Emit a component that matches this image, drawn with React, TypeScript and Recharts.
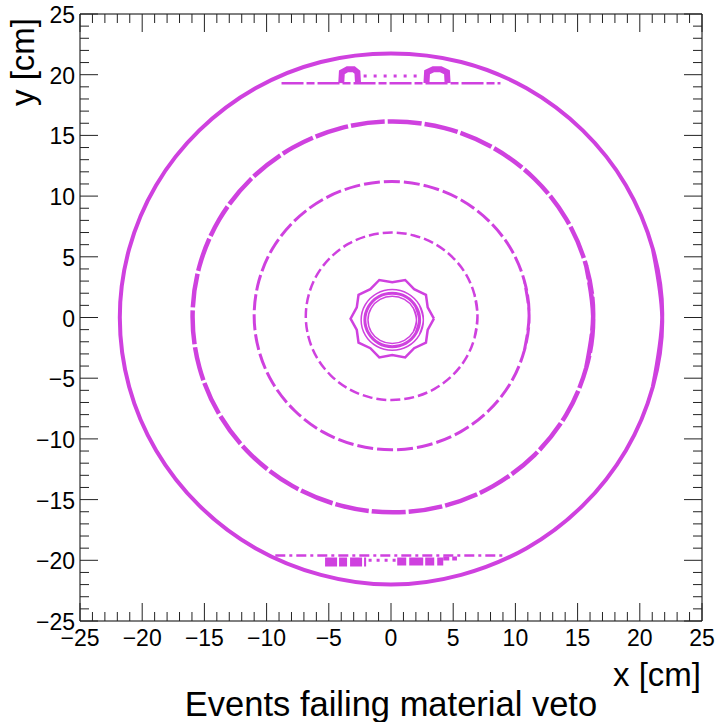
import React from "react";
import { LineChart, Line, XAxis, YAxis, ReferenceArea } from "recharts";

const MAGENTA = "#cf41df";
const FONT = '"Liberation Sans", Arial, Helvetica, sans-serif';

// one tick per cm, labels on every 5th
const axisTicks = [
  -25, -24, -23, -22, -21, -20, -19, -18, -17, -16, -15, -14, -13, -12, -11, -10, -9, -8, -7, -6, -5, -4, -3, -2, -1,
  0, 1, 2, 3, 4, 5, 6, 7, 8, 9, 10, 11, 12, 13, 14, 15, 16, 17, 18, 19, 20, 21, 22, 23, 24, 25,
];

// ring outlines, [x, y] in cm (closed loops)
const outerRing = [
  [21.8, 0], [21.05, 5.64], [18.88, 10.9], [15.41, 15.41], [10.9, 18.88], [5.64, 21.05], [0, 21.75],
  [-5.64, 21.05], [-10.9, 18.88], [-15.41, 15.41], [-18.88, 10.9], [-21.05, 5.64], [-21.8, 0],
  [-21.05, -5.7], [-18.88, -10.95], [-15.41, -15.5], [-10.9, -19.0], [-5.64, -21.2], [0, -22.0],
  [5.64, -21.2], [10.9, -19.0], [15.41, -15.5], [18.88, -10.95], [21.05, -5.7],
];
const ring16 = [
  [16.25, 0.05], [15.7, 4.22], [14.09, 8.1], [11.53, 11.43], [8.2, 13.99], [4.32, 15.6], [0.15, 16.15],
  [-4.02, 15.6], [-7.9, 13.99], [-11.23, 11.43], [-13.79, 8.1], [-15.4, 4.22], [-15.95, 0.05],
  [-15.4, -4.12], [-13.79, -8.0], [-11.23, -11.33], [-7.9, -13.89], [-4.02, -15.5], [0.15, -16.05],
  [4.32, -15.5], [8.2, -13.89], [11.53, -11.33], [14.09, -8.0], [15.7, -4.12],
];
const ring11 = [
  [11.1, 0.15], [10.72, 3.01], [9.62, 5.68], [7.86, 7.96], [5.58, 9.72], [2.91, 10.82], [0.05, 11.2],
  [-2.81, 10.82], [-5.48, 9.72], [-7.76, 7.96], [-9.52, 5.68], [-10.62, 3.01], [-11.0, 0.15],
  [-10.62, -2.71], [-9.52, -5.38], [-7.76, -7.66], [-5.48, -9.42], [-2.81, -10.52], [0.05, -10.9],
  [2.91, -10.52], [5.58, -9.42], [7.86, -7.66], [9.62, -5.38], [10.72, -2.71],
];
const ring7 = [
  [6.95, 0.1], [6.71, 1.89], [6.03, 3.55], [4.93, 4.98], [3.5, 6.08], [1.84, 6.76], [0.05, 7.0],
  [-1.74, 6.76], [-3.4, 6.08], [-4.83, 4.98], [-5.93, 3.55], [-6.61, 1.89], [-6.85, 0.1],
  [-6.61, -1.69], [-5.93, -3.35], [-4.83, -4.78], [-3.4, -5.88], [-1.74, -6.56], [0.05, -6.8],
  [1.84, -6.56], [3.5, -5.88], [4.93, -4.78], [6.03, -3.35], [6.71, -1.69],
];
const jaggedRing = [
  [3.45, -0.1], [2.95, 0.83], [2.81, 1.87], [1.86, 2.33], [1.14, 3.09], [0.1, 2.9], [-0.94, 3.09],
  [-1.66, 2.33], [-2.61, 1.87], [-2.75, 0.83], [-3.25, -0.1], [-2.75, -1.03], [-2.61, -2.07],
  [-1.66, -2.53], [-0.94, -3.29], [0.1, -3.1], [1.14, -3.29], [1.86, -2.53], [2.81, -2.07],
  [2.95, -1.03],
];
const pipeOuter = [
  [2.6, -0.2], [2.27, 1.05], [1.35, 1.97], [0.1, 2.3], [-1.15, 1.97], [-2.07, 1.05], [-2.4, -0.2],
  [-2.07, -1.45], [-1.15, -2.37], [0.1, -2.7], [1.35, -2.37], [2.27, -1.45],
];
const pipeMid = [
  [2.3, -0.2], [2.0, 0.9], [1.2, 1.71], [0.1, 2.0], [-1.0, 1.71], [-1.8, 0.9], [-2.1, -0.2],
  [-1.8, -1.3], [-1.0, -2.11], [0.1, -2.4], [1.2, -2.11], [2.0, -1.3],
];
const pipeInner = [
  [2.05, -0.2], [1.79, 0.78], [1.08, 1.49], [0.1, 1.75], [-0.88, 1.49], [-1.59, 0.78], [-1.85, -0.2],
  [-1.59, -1.18], [-0.88, -1.89], [0.1, -2.15], [1.08, -1.89], [1.79, -1.18],
];

// flat structures near y = +-20
const topBar = [[-8.8, 19.3], [8.8, 19.3]];
const topArchLeft = [[-4.0, 19.3], [-3.95, 20.2], [-3.5, 20.45], [-3.0, 20.45], [-2.7, 20.2], [-2.65, 19.3]];
const topArchRight = [[2.85, 19.3], [2.9, 20.2], [3.4, 20.45], [4.0, 20.45], [4.5, 20.2], [4.55, 19.3]];
const topDots = [[-2.2, 19.9], [2.4, 19.9]];
const bottomBar = [[-9.3, -19.6], [9.0, -19.6]];
const bottomBlobLeft = [[-5.3, -20.15], [-2.0, -20.15]];
const bottomBlobRight = [[0.5, -20.1], [4.2, -20.1]];
const bottomBlobEnd = [[4.2, -19.85], [5.3, -19.85]];
const bottomDots = [[-1.8, -20.0], [0.4, -20.0]];

const pts = (a: number[][]) => a.map(([x, y]) => ({ x, y }));
// closed loop: wrap one point on each end so the spline has no seam
const loop = (a: number[][]) => pts([a[a.length - 1], ...a, a[0], a[1]]);
const closeLinear = (a: number[][]) => pts([...a, a[0]]);

const series = [
  { key: "outer", data: loop(outerRing), w: 4, dash: undefined, curve: "natural" },
  { key: "r16", data: loop(ring16), w: 4.5, dash: "34 3", curve: "natural" },
  { key: "r11", data: loop(ring11), w: 3, dash: "16 4", curve: "natural" },
  { key: "r7", data: loop(ring7), w: 2.5, dash: "10 4", curve: "natural" },
  { key: "jag", data: closeLinear(jaggedRing), w: 2.5, dash: undefined, curve: "linear" },
  { key: "p1", data: loop(pipeOuter), w: 1.5, dash: undefined, curve: "natural" },
  { key: "p2", data: loop(pipeMid), w: 3, dash: undefined, curve: "natural" },
  { key: "p3", data: loop(pipeInner), w: 1.5, dash: undefined, curve: "natural" },
  { key: "tb", data: pts(topBar), w: 2.5, dash: "22 3 8 3", curve: "linear" },
  { key: "tal", data: pts(topArchLeft), w: 6, dash: undefined, curve: "linear" },
  { key: "tar", data: pts(topArchRight), w: 6, dash: undefined, curve: "linear" },
  { key: "td", data: pts(topDots), w: 3, dash: "3 7", curve: "linear" },
  { key: "bb", data: pts(bottomBar), w: 2.5, dash: "10 4 3 4", curve: "linear" },
  { key: "bbl", data: pts(bottomBlobLeft), w: 9, dash: "12 2 8 3", curve: "linear" },
  { key: "bbr", data: pts(bottomBlobRight), w: 8, dash: "9 3 14 2", curve: "linear" },
  { key: "bbe", data: pts(bottomBlobEnd), w: 4, dash: "6 3", curve: "linear" },
  { key: "bd", data: pts(bottomDots), w: 3, dash: "3 5", curve: "linear" },
];

const PLOT_W = 622;
const PLOT_H = 607;

const fmt = (v: number) => (v < 0 ? "\u2212" + Math.abs(v) : String(v));

const XTick = (props: any) => {
  const { x, y, payload } = props;
  const v = payload.value;
  const major = v % 5 === 0;
  const len = major ? 18 : 9;
  return (
    <g>
      <line x1={x} y1={y} x2={x} y2={y - len} stroke="#222" />
      <line x1={x} y1={y - PLOT_H} x2={x} y2={y - PLOT_H + len} stroke="#222" />
      {major && (
        <text x={x} y={y + 25} textAnchor="middle" fontSize={23} fontFamily={FONT} fill="#000">
          {fmt(v)}
        </text>
      )}
    </g>
  );
};

const YTick = (props: any) => {
  const { x, y, payload } = props;
  const v = payload.value;
  const major = v % 5 === 0;
  const len = major ? 18 : 9;
  return (
    <g>
      <line x1={x} y1={y} x2={x + len} y2={y} stroke="#222" />
      <line x1={x + PLOT_W} y1={y} x2={x + PLOT_W - len} y2={y} stroke="#222" />
      {major && (
        <text x={x - 5} y={y + 9} textAnchor="end" fontSize={23} fontFamily={FONT} fill="#000">
          {fmt(v)}
        </text>
      )}
    </g>
  );
};

export default function App() {
  return (
    <div style={{ position: "absolute", left: 0, top: 0, width: 717, height: 722, background: "#fff" }}>
      <LineChart width={717} height={722} margin={{ top: 14, right: 15, bottom: 71, left: 20 }}>
        <XAxis
          type="number"
          dataKey="x"
          domain={[-25, 25]}
          ticks={axisTicks}
          interval={0}
          tickSize={0}
          tickMargin={0}
          axisLine={false}
          tick={<XTick />}
          height={30}
          allowDataOverflow
        />
        <YAxis
          type="number"
          dataKey="y"
          domain={[-25, 25]}
          ticks={axisTicks}
          interval={0}
          tickSize={0}
          tickMargin={0}
          axisLine={false}
          tick={<YTick />}
          width={60}
          allowDataOverflow
        />
        <ReferenceArea x1={-25} x2={25} y1={-25} y2={25} fill="none" stroke="#000" strokeWidth={1} />
        {series.map((s) => (
          <Line
            key={s.key}
            data={s.data}
            dataKey="y"
            type={s.curve as any}
            stroke={MAGENTA}
            strokeWidth={s.w}
            strokeDasharray={s.dash}
            dot={false}
            activeDot={false}
            isAnimationActive={false}
          />
        ))}
      </LineChart>
      <svg
        width={717}
        height={722}
        style={{ position: "absolute", left: 0, top: 0, pointerEvents: "none" }}
      >
        <text x={34} y={18} transform="rotate(-90 34 18)" textAnchor="end" fontSize={33} fontFamily={FONT}>
          y [cm]
        </text>
        <text x={701} y={686} textAnchor="end" fontSize={33} fontFamily={FONT}>
          x [cm]
        </text>
        <text x={391} y={716} textAnchor="middle" fontSize={34.5} fontFamily={FONT}>
          Events failing material veto
        </text>
      </svg>
    </div>
  );
}
